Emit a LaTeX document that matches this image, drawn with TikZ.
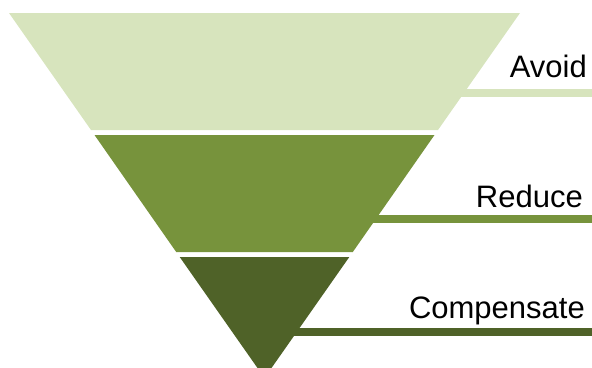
\documentclass[tikz,border=0pt]{standalone}
\usepackage{fontspec}
\setmainfont{Liberation Sans}
\definecolor{lightolive}{HTML}{D7E4BD}
\definecolor{midolive}{HTML}{77933C}
\definecolor{darkolive}{HTML}{4F6228}
\tikzset{
  lbl/.style={anchor=base east, inner sep=0pt, font=\fontsize{31}{31}\selectfont, text=black},
  bar/.style={line width=8pt, line cap=butt}
}
\begin{document}
\begin{tikzpicture}[x=1pt, y=-1pt]
\useasboundingbox (0,0) rectangle (592,367);
% leader lines (drawn beneath the bands)
\coordinate (a1) at (264.5,93);  \coordinate (a2) at (592,93);
\coordinate (r1) at (264.5,219); \coordinate (r2) at (592,219);
\coordinate (c1) at (264.5,332); \coordinate (c2) at (592,332);
\draw[bar, lightolive] (a1) -- (a2);
\draw[bar, midolive] (r1) -- (r2);
\draw[bar, darkolive] (c1) -- (c2);
% bands
\fill[lightolive] (9,13) -- (520,13) -- (438,130) -- (91,130) -- cycle;
\fill[midolive] (94.5,135) -- (434.5,135) -- (352.8,252) -- (176.2,252) -- cycle;
\fill[darkolive] (179.7,257) -- (349.3,257) -- (264.5,378) -- cycle;
% labels
\node[lbl] (avoid) at (587,77) {Avoid};
\node[lbl] (reduce) at (583,207) {Reduce};
\node[lbl] (comp) at (585,318) {Compensate};
\end{tikzpicture}
\end{document}
